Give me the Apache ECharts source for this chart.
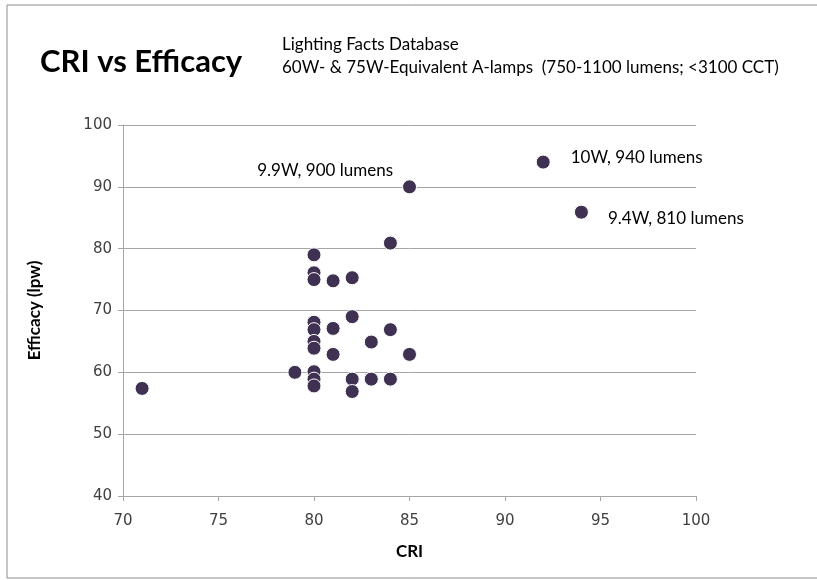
<!DOCTYPE html>
<html>
<head>
<meta charset="utf-8">
<script src="https://cdn.jsdelivr.net/npm/echarts@6/dist/echarts.min.js"></script>
<style>
  html, body { margin: 0; padding: 0; background: #fff; }
  #grafico { width: 817px; height: 580px; }
</style>
</head>
<body>
<div id="grafico"></div>
<script>
// CRI (x) e eficácia em lm/W (y)
var cri = [71, 79, 80, 80, 80, 80, 80, 80, 80, 80, 80, 80,
           81, 81, 81, 82, 82, 82, 82, 83, 83, 84, 84, 84, 85, 85, 92, 94];
var efficacy = [57.4, 60, 79, 76.1, 75, 68.1, 66.9, 65, 63.9, 60.1, 58.9, 57.8,
                74.8, 67.1, 62.9, 75.3, 69, 58.9, 56.9, 64.9, 58.9, 80.9, 66.9, 58.9, 62.9, 90, 94, 85.9];
var xTicks = [70, 75, 80, 85, 90, 95, 100];
var yTicks = [40, 50, 60, 70, 80, 90, 100];

// rótulos de alguns pontos
var anotacoes = [
    { x: 85, y: 90, text: '9.9W, 900 lumens', position: 'left', offset: [-4, -16] },
    { x: 92, y: 94, text: '10W, 940 lumens', position: 'right', offset: [15, -5] },
    { x: 94, y: 85.9, text: '9.4W, 810 lumens', position: 'right', offset: [14, 6] }
];

function exibeGrafico() {
    var myChart = echarts.init(document.getElementById('grafico'));

    var pontos = [];
    for (var i = 0; i < cri.length; i++) {
        var item = { value: [cri[i], efficacy[i]] };
        anotacoes.forEach(function (a) {
            if (a.x == cri[i] && a.y == efficacy[i]) {
                item.label = {
                    show: true,
                    formatter: a.text,
                    position: a.position,
                    offset: a.offset,
                    color: '#000',
                    fontFamily: 'Lato',
                    fontSize: 17
                };
            }
        });
        pontos.push(item);
    }

    var option = {
        animation: false,
        backgroundColor: '#fff',
        graphic: [
            {
                type: 'rect',
                shape: { x: 7, y: 5, width: 830, height: 573 },
                style: { fill: 'none', stroke: '#8c8c8c', lineWidth: 1 }
            },
            {
                type: 'text', left: 40, top: 46,
                style: { text: 'CRI vs Efficacy', font: 'bold 31px Lato', fill: '#000' }
            },
            {
                type: 'text', left: 282, top: 36,
                style: { text: 'Lighting Facts Database', font: '17px Lato', fill: '#000' }
            },
            {
                type: 'text', left: 282, top: 59,
                style: { text: '60W- & 75W-Equivalent A-lamps  (750-1100 lumens; <3100 CCT)', font: '17px Lato', fill: '#000' }
            }
        ],
        grid: { left: 123, right: 121, top: 125, bottom: 84 },
        xAxis: {
            type: 'value',
            min: xTicks[0], max: xTicks[xTicks.length - 1], interval: 5,
            name: 'CRI', nameLocation: 'middle', nameGap: 47,
            nameTextStyle: { fontFamily: 'Lato', fontWeight: 'bold', fontSize: 17, color: '#000' },
            axisLine: { show: true, lineStyle: { color: '#a6a6a6' } },
            axisTick: { show: true, length: 5, lineStyle: { color: '#a6a6a6' } },
            axisLabel: { fontFamily: 'DejaVu Sans', fontSize: 15, color: '#404040', margin: 18 },
            splitLine: { show: false }
        },
        yAxis: {
            type: 'value',
            min: yTicks[0], max: yTicks[yTicks.length - 1], interval: 10,
            name: 'Efficacy (lpw)', nameLocation: 'middle', nameGap: 80,
            nameTextStyle: { fontFamily: 'Lato', fontWeight: 'bold', fontSize: 17, color: '#000' },
            axisLine: { show: true, lineStyle: { color: '#a6a6a6' } },
            axisTick: { show: true, length: 5, lineStyle: { color: '#a6a6a6' } },
            axisLabel: { fontFamily: 'DejaVu Sans', fontSize: 15, color: '#404040', margin: 11 },
            splitLine: { show: true, lineStyle: { color: '#a6a6a6' } }
        },
        series: [{
            type: 'scatter',
            symbol: 'circle',
            symbolSize: 14,
            itemStyle: { color: '#3f3151', opacity: 1, borderColor: '#fff', borderWidth: 1 },
            data: pontos
        }]
    };

    myChart.setOption(option);
}

exibeGrafico();
</script>
</body>
</html>
